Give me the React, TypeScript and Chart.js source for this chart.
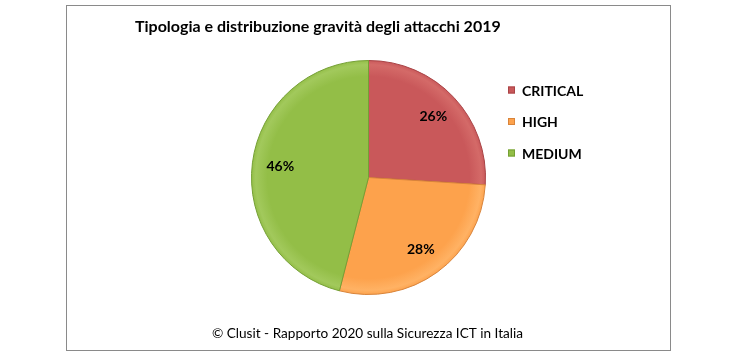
import React, { useEffect, useRef } from "react";
import { Chart, registerables } from "chart.js";

Chart.register(...registerables);

const categories = ["CRITICAL", "HIGH", "MEDIUM"];
const values = [26, 28, 46];
const fillColors = ["#C9585A", "#FDA24C", "#93BE47"];
const rimColors = ["#D46A68", "#FFB264", "#A2C95C"];
const edgeColors = ["#A94446", "#D9843A", "#75A035"];
const titleText = "Tipologia e distribuzione gravità degli attacchi 2019";
const footerText = "© Clusit - Rapporto 2020 sulla Sicurezza ICT in Italia";

const FONT = "Lato, 'Open Sans', sans-serif";

const decorPlugin = {
  id: "decor",
  beforeDraw(chart: any) {
    const ctx = chart.ctx;
    ctx.save();
    ctx.fillStyle = "#ffffff";
    ctx.fillRect(0, 0, chart.width, chart.height);
    ctx.strokeStyle = "#8a8a8a";
    ctx.lineWidth = 1;
    ctx.strokeRect(66.5, 5.5, 604, 345);
    ctx.restore();
  },
  afterDraw(chart: any) {
    const ctx = chart.ctx;
    ctx.save();
    // title
    ctx.fillStyle = "#000000";
    ctx.textBaseline = "alphabetic";
    ctx.textAlign = "left";
    ctx.font = `bold 16px ${FONT}`;
    ctx.fillText(titleText, 135, 32);
    // footer
    ctx.font = `13.6px ${FONT}`;
    ctx.textAlign = "center";
    ctx.fillText(footerText, 367.5, 338);

    // legend
    const labels = chart.data.labels as string[];
    ctx.textAlign = "left";
    ctx.font = `bold 14px ${FONT}`;
    labels.forEach((lab, i) => {
      const cy = 90 + i * 31.5;
      ctx.fillStyle = fillColors[i];
      ctx.fillRect(508, cy - 3.5, 7, 7);
      ctx.strokeStyle = edgeColors[i];
      ctx.lineWidth = 1;
      ctx.strokeRect(508.5, cy - 3, 6, 6);
      ctx.fillStyle = "#000000";
      ctx.fillText(lab, 522, cy + 5.5);
    });

    // data labels
    const ds = chart.data.datasets[0];
    const meta = chart.getDatasetMeta(0);
    const total = (ds.data as number[]).reduce((a, b) => a + b, 0);
    ctx.font = `bold 14px ${FONT}`;
    ctx.textAlign = "center";
    ctx.textBaseline = "middle";
    ctx.fillStyle = "#000000";
    meta.data.forEach((arc: any, i: number) => {
      const p = arc.getProps(["x", "y", "startAngle", "endAngle", "outerRadius"], true);
      const mid = (p.startAngle + p.endAngle) / 2;
      const r = p.outerRadius * 0.76;
      const v = Math.round(((ds.data[i] as number) / total) * 100);
      ctx.fillText(`${v}%`, p.x + Math.cos(mid) * r, p.y + Math.sin(mid) * r);
    });
    ctx.restore();
  },
};

function shadedFill(c: any) {
  const i = c.dataIndex;
  const chart = c.chart;
  const area = chart.chartArea;
  if (!area) return fillColors[i];
  const cx = (area.left + area.right) / 2;
  const cy = (area.top + area.bottom) / 2;
  const r = Math.min(area.right - area.left, area.bottom - area.top) / 2;
  const g = chart.ctx.createRadialGradient(cx, cy, 0, cx, cy, r);
  g.addColorStop(0, fillColors[i]);
  g.addColorStop(0.86, fillColors[i]);
  g.addColorStop(0.96, rimColors[i]);
  g.addColorStop(1, fillColors[i]);
  return g;
}

export default function App() {
  const ref = useRef<HTMLCanvasElement>(null);
  useEffect(() => {
    if (!ref.current) return;
    const chart = new Chart(ref.current, {
      type: "pie",
      data: {
        labels: categories,
        datasets: [
          {
            data: values,
            backgroundColor: shadedFill as any,
            borderColor: edgeColors,
            borderWidth: 1,
            hoverOffset: 0,
            offset: 0,
          },
        ],
      },
      options: {
        responsive: false,
        animation: false,
        layout: { padding: { left: 251, right: 253, top: 60, bottom: 67 } },
        plugins: {
          legend: { display: false },
          tooltip: { enabled: false },
          title: { display: false },
        },
      },
      plugins: [decorPlugin],
    });
    return () => chart.destroy();
  }, []);
  return (
    <div style={{ position: "fixed", left: 0, top: 0, width: 739, height: 362, background: "#fff" }}>
      <canvas ref={ref} width={739} height={362} style={{ display: "block" }} />
    </div>
  );
}
